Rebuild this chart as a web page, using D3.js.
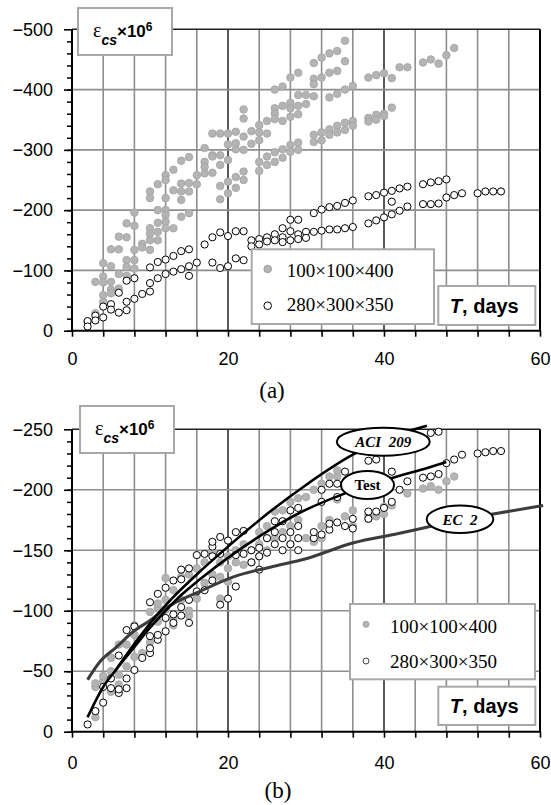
<!DOCTYPE html>
<html>
<head>
<meta charset="utf-8">
<script src="https://cdn.jsdelivr.net/npm/d3@7"></script>
<style>
body { margin: 0; background: #fff; }
svg { display: block; }
</style>
</head>
<body>
<div id="chart"></div>
<script>
// ---- Data: [T days, shrinkage strain x 1e6 (magnitude, plotted as negative)] ----

// (a) 100x100x400 specimens
var aSmall = [
    [2,15],[3,29],[3,81],
    [4,112],[4,90],[4,80],[4,59],[4,48],
    [5,135],[5,107],[5,81],[5,68],[5,62],
    [6,156],[6,135],[6,94],[6,70],
    [7,178],[7,155],[7,117],[7,106],[7,91],
    [8,196],[8,174],[8,134],[8,117],[8,103],
    [9,144],[9,138],
    [10,231],[10,220],[10,170],[10,161],[10,150],[10,134],
    [11,243],[11,200],[11,179],[11,164],[11,150],
    [12,258],[12,250],[12,220],[12,200],[12,192],[12,181],[12,170],
    [13,267],[13,233],[13,170],
    [14,282],[14,244],[14,231],[14,217],[14,189],
    [15,288],[15,245],[15,231],[15,195],
    [16,258],[16,243],
    [17,303],[17,280],[17,272],[17,261],
    [18,327],[18,291],[18,289],[18,262],
    [19,327],[19,291],[19,275],[19,240],[19,218],
    [20,327],[20,309],[20,283],[20,247],[20,228],
    [21,330],[21,311],[21,301],[21,255],[21,237],
    [22,367],[22,352],[22,322],[22,300],[22,264],[22,250],
    [23,331],[23,310],
    [24,341],[24,329],[24,316],[24,280],[24,265],
    [25,348],[25,327],[25,289],[25,275],
    [26,400],[26,369],[26,360],[26,351],[26,296],[26,280],
    [27,405],[27,373],[27,348],[27,301],[27,287],
    [28,420],[28,378],[28,369],[28,355],[28,308],[28,297],
    [29,428],[29,391],[29,373],[29,359],[29,312],[29,300],
    [30,391],[30,376],
    [31,444],[31,418],[31,409],[31,389],[31,325],[31,313],
    [32,453],[32,420],[32,329],[32,316],
    [33,460],[33,428],[33,387],[33,334],[33,325],
    [34,464],[34,431],[34,393],[34,340],[34,329],
    [35,481],[35,447],[35,400],[35,345],[35,333],
    [36,406],[36,348],[36,340],
    [38,420],[38,353],[38,347],
    [39,424],[39,358],[39,350],
    [40,427],[40,360],[40,356],
    [41,419],[41,370],
    [42,437],[43,437],[45,445],[46,450],[47,443],[48,457],[49,469]
];

// (a) 280x300x350 specimens
var aLarge = [
    [2,16],[2,7],[3,25],[3,17],[4,40],[4,22],[5,44],[5,35],
    [6,63],[6,30],[7,83],[7,48],[7,34],[8,87],[8,53],[9,61],
    [10,105],[10,79],[10,65],[11,114],[11,87],[12,118],[12,94],
    [13,124],[13,98],[14,132],[14,102],[15,135],[15,107],[15,91],
    [16,113],[17,143],[18,155],[18,113],[19,163],[19,104],
    [20,157],[20,107],[21,165],[21,120],[22,165],[22,117],
    [23,150],[23,140],[24,152],[24,143],[25,155],[25,148],
    [26,160],[26,150],[27,170],[27,155],[27,147],
    [28,184],[28,165],[28,150],[29,184],[29,160],[29,152],
    [30,164],[30,154],
    [31,195],[31,164],[32,201],[32,166],[33,205],[33,168],
    [34,207],[34,168],[35,212],[35,170],[36,216],[36,172],
    [38,223],[38,178],[39,225],[39,183],[40,229],[40,188],
    [41,232],[41,214],[41,193],[42,236],[42,199],[43,239],[43,206],
    [45,243],[45,210],[46,246],[46,210],[47,248],[47,211],
    [48,251],[48,221],[49,225],[50,228],[52,228],[53,231],[54,231],[55,231]
];

// (b) 100x100x400 specimens
var bSmall = [
    [3,12],[3,37],[3,40],[4,42],[4,46],[5,33],[5,50],[5,61],
    [6,39],[6,47],[6,72],[7,54],[7,72],[8,62],[8,80],[8,88],[9,65],
    [10,74],[10,99],[11,91],[11,102],[11,106],[12,101],[12,109],[12,127],
    [13,88],[13,93],[13,117],[14,109],[14,128],[15,96],[15,100],[15,130],
    [16,110],[16,135],[17,123],[17,140],[18,130],[18,149],
    [19,110],[19,128],[19,140],[20,124],[20,135],[20,145],
    [21,140],[21,150],[22,138],[22,155],[23,140],[23,150],
    [24,145],[24,155],[24,165],[25,150],[25,160],[25,170],
    [26,160],[26,182],[27,165],[27,183],[28,155],[28,170],[28,190],
    [29,175],[29,193],[30,160],[30,194],[31,157],[31,200],
    [32,160],[32,170],[32,205],[33,175],[33,211],
    [34,192],[34,211],[34,216],[35,178],[36,170],[36,183],
    [38,176],[38,179],[39,178],[40,180],[40,186],[41,187],[43,197],
    [45,201],[46,203],[47,200],[48,207],[49,211]
];

// (b) 280x300x350 specimens
var bLarge = [
    [2,6],[3,17],[4,24],[4,37],[5,36],[5,44],[6,32],[6,35],[6,63],
    [7,36],[7,44],[7,84],[8,51],[8,87],[9,61],
    [10,65],[10,69],[10,79],[10,107],[11,76],[11,80],[11,114],
    [12,83],[12,94],[12,119],[13,90],[13,97],[13,125],
    [14,96],[14,103],[14,126],[14,134],[15,90],[15,109],[15,135],
    [16,116],[16,146],[17,117],[17,147],[18,125],[18,145],[18,153],[18,157],
    [19,105],[19,147],[19,161],[20,110],[20,158],[21,120],[21,146],[21,165],
    [22,147],[22,166],[23,140],[23,150],[24,134],[24,145],[24,152],
    [25,148],[25,160],[26,155],[26,165],[26,174],[27,150],[27,160],[27,174],
    [28,155],[28,165],[28,183],[29,150],[29,160],[29,170],[29,185],
    [31,160],[31,165],[32,163],[32,190],[32,200],[33,167],[33,172],[33,205],
    [34,173],[34,194],[34,205],[35,170],[35,215],[36,168],[36,176],
    [38,176],[38,182],[38,224],[39,182],[39,225],[40,185],[41,190],[41,215],
    [42,200],[43,207],[45,210],[46,211],[46,247],[47,213],[47,248],
    [48,222],[49,225],[50,229],[52,230],[53,231],[54,232],[55,232]
];

// (b) model / fitted curves
var curveACI = [[5.5,50],[8.5,77],[10.7,95],[12.8,110],[16,130],[20,153],[25.4,182],[30,204],[36,229],[41,244],[45.5,253]];
var curveTest = [[2,12],[4,37],[5.5,50],[8,70],[10,86],[12,100],[14,113],[16.4,126],[20.7,147],[25.4,167],[29.2,181],[34.6,196],[41.2,210],[45,217],[48,223]];
var curveEC2 = [[2,43],[3.6,58],[5.7,70],[7.9,83],[10,92],[12,102],[16.4,116],[20.7,128],[25.4,136],[30,143],[36,156],[42,164],[45.5,169],[50,176],[54,180],[60.4,187]];

var xTickLabels = [0, 20, 40, 60];
var aTicks = [0, 100, 200, 300, 400, 500];
var bTicks = [0, 50, 100, 150, 200, 250];
var seriesNames = ['100\u00d7100\u00d7400', '280\u00d7300\u00d7350'];

// ---- Set up svg ----
var svgWidth = 551;
var svgHeight = 805;

var svg = d3.select('#chart')
    .append('svg')
    .attr('width', svgWidth)
    .attr('height', svgHeight);

var sansFont = 'Arial, "Liberation Sans", sans-serif';
var serifFont = '"Times New Roman", "Liberation Serif", serif';

var xScale = d3.scaleLinear().domain([0, 60]).range([72, 540]);

function minus(d) {
    return d === 0 ? '0' : '\u2212' + d;
}

function drawPoints(g, data, yScale, filled, r) {
    g.append('g').selectAll('circle')
        .data(data)
        .enter()
        .append('circle')
        .attr('cx', (d) => xScale(d[0]))
        .attr('cy', (d) => yScale(d[1]))
        .attr('r', r)
        .attr('fill', filled ? '#b4b4b4' : '#fff')
        .attr('stroke', filled ? '#a2a2a2' : '#000')
        .attr('stroke-width', filled ? 0.8 : 1);
}

function drawBoxText(g, x, y, w, h) {
    g.append('rect')
        .attr('x', x).attr('y', y)
        .attr('width', w).attr('height', h)
        .attr('fill', '#fff')
        .attr('stroke', '#a8a8a8')
        .attr('stroke-width', 2);
}

// Units box
function drawUnitBox(g, x, y) {
    drawBoxText(g, x, y, 94, 47);
    var t = g.append('text')
        .attr('x', x + 15)
        .attr('y', y + 29)
        .attr('font-family', sansFont)
        .attr('fill', '#000');
    t.append('tspan').text('\u03b5')
        .attr('font-family', serifFont)
        .attr('font-size', 20);
    t.append('tspan').text('cs')
        .attr('dy', 8)
        .attr('font-size', 14)
        .attr('font-style', 'italic')
        .attr('font-weight', 'bold');
    t.append('tspan').text('\u00d710')
        .attr('dy', -8)
        .attr('font-size', 17)
        .attr('font-weight', 'bold');
    t.append('tspan').text('6')
        .attr('dy', -6)
        .attr('font-size', 12)
        .attr('font-weight', 'bold');
}

function drawDaysBox(g, x, y, h) {
    drawBoxText(g, x, y, 97, h);
    var t = g.append('text')
        .attr('x', x + 46)
        .attr('y', y + h / 2 + 7)
        .attr('text-anchor', 'middle')
        .attr('font-family', sansFont)
        .attr('font-weight', 'bold')
        .attr('font-size', 20);
    t.append('tspan').text('T').attr('font-style', 'italic');
    t.append('tspan').text(', days');
}

function drawLegend(g, x, y, w, h, rows, r) {
    drawBoxText(g, x, y, w, h);
    rows.forEach((row, i) => {
        g.append('circle')
            .attr('cx', x + 16)
            .attr('cy', row.cy)
            .attr('r', r)
            .attr('fill', i === 0 ? '#b4b4b4' : '#fff')
            .attr('stroke', i === 0 ? '#a2a2a2' : (r < 3.5 ? '#444' : '#000'))
            .attr('stroke-width', 1);
        g.append('text')
            .attr('x', row.tx)
            .attr('y', row.base)
            .attr('font-family', serifFont)
            .attr('font-size', 19)
            .text(seriesNames[i]);
    });
}

// Panel: grid, axes, points
function drawPanel(p) {
    var g = svg.append('g');
    var yScale = d3.scaleLinear().domain([0, p.yMax]).range([p.bottom, p.top]);
    var x0 = xScale.range()[0], x1 = xScale.range()[1];

    // vertical grid every 4 days, darker at 20 and 40
    g.append('g').selectAll('line')
        .data(d3.range(4, 60, 4))
        .enter()
        .append('line')
        .attr('x1', (d) => xScale(d)).attr('x2', (d) => xScale(d))
        .attr('y1', p.top).attr('y2', p.bottom)
        .attr('stroke', (d) => d % 20 === 0 ? '#000' : '#8e8e8e')
        .attr('stroke-width', (d) => d % 20 === 0 ? 1.3 : 1.6);

    // horizontal grid
    g.append('g').selectAll('line')
        .data(p.ticks.filter((d) => d > 0 && d < p.yMax))
        .enter()
        .append('line')
        .attr('x1', x0).attr('x2', x1)
        .attr('y1', (d) => yScale(d)).attr('y2', (d) => yScale(d))
        .attr('stroke', '#8e8e8e')
        .attr('stroke-width', 1.6);

    // frame top + right
    g.append('line').attr('x1', x0).attr('x2', x1).attr('y1', p.top).attr('y2', p.top)
        .attr('stroke', '#222').attr('stroke-width', 1.5);
    g.append('line').attr('x1', x1).attr('x2', x1).attr('y1', p.top).attr('y2', p.bottom)
        .attr('stroke', '#000').attr('stroke-width', 2);

    // points
    drawPoints(g, p.small, yScale, true, 3.8);
    drawPoints(g, p.large, yScale, false, 3.6);

    // y axis, minor then major ticks
    var minorAxis = d3.axisLeft(yScale)
        .tickValues(d3.range(0, p.yMax, p.minor))
        .tickSize(6)
        .tickFormat('');
    g.append('g')
        .attr('transform', `translate(${x0 + 1}, 0)`)
        .call(minorAxis)
        .call((s) => s.select('.domain').remove())
        .selectAll('line').attr('stroke', '#000').attr('stroke-width', 1.5);

    var majorAxis = d3.axisLeft(yScale)
        .tickValues(p.ticks)
        .tickSize(8)
        .tickPadding(11)
        .tickFormat(minus);
    var yAxis = g.append('g')
        .attr('transform', `translate(${x0}, 0)`)
        .call(majorAxis)
        .call((s) => s.select('.domain').remove());
    yAxis.selectAll('line').attr('stroke', '#000').attr('stroke-width', 1.6);
    yAxis.selectAll('text')
        .attr('font-family', sansFont)
        .attr('font-size', 18)
        .attr('fill', '#000');

    // x axis
    var bottomAxis = d3.axisBottom(xScale)
        .tickValues(d3.range(0, 61, 4))
        .tickSize(6)
        .tickPadding(p.xPad)
        .tickFormat((d) => xTickLabels.indexOf(d) >= 0 ? d : '');
    var xAxis = g.append('g')
        .attr('transform', `translate(0, ${p.bottom})`)
        .call(bottomAxis)
        .call((s) => s.select('.domain').remove());
    xAxis.selectAll('line').attr('stroke', '#000').attr('stroke-width', 1.6);
    xAxis.selectAll('text')
        .attr('font-family', sansFont)
        .attr('font-size', 18)
        .attr('fill', '#000');

    // axis lines
    g.append('line').attr('x1', x0).attr('x2', x0).attr('y1', p.top).attr('y2', p.bottom)
        .attr('stroke', '#000').attr('stroke-width', 2);
    g.append('line').attr('x1', x0).attr('x2', x1 + 1).attr('y1', p.bottom).attr('y2', p.bottom)
        .attr('stroke', '#000').attr('stroke-width', 2);

    p.g = g;
    p.yScale = yScale;
    return p;
}

// ---- Panel (a) ----
var panelA = drawPanel({
    top: 29.3, bottom: 330.7, yMax: 500, ticks: aTicks, minor: 20,
    small: aSmall, large: aLarge, xPad: 16
});
drawLegend(panelA.g, 251.7, 249.3, 182.3, 74.7, [
    { cy: 269, tx: 286.7, base: 276.5 },
    { cy: 305.7, tx: 286.7, base: 311 }
], 3.8);
drawDaysBox(panelA.g, 438.3, 286, 39);
drawUnitBox(panelA.g, 78, 8);

svg.append('text')
    .attr('x', 272).attr('y', 398)
    .attr('text-anchor', 'middle')
    .attr('font-family', serifFont)
    .attr('font-size', 23)
    .text('(a)');

// ---- Panel (b) ----
var panelB = drawPanel({
    top: 429.3, bottom: 731.7, yMax: 250, ticks: bTicks, minor: 10,
    small: bSmall, large: bLarge, xPad: 19
});

var line = d3.line()
    .x((d) => xScale(d[0]))
    .y((d) => panelB.yScale(d[1]))
    .curve(d3.curveMonotoneX);

panelB.g.append('path').datum(curveEC2)
    .attr('d', line).attr('fill', 'none')
    .attr('stroke', '#3c3c3c').attr('stroke-width', 3);
panelB.g.append('path').datum(curveTest)
    .attr('d', line).attr('fill', 'none')
    .attr('stroke', '#000').attr('stroke-width', 2.6);
panelB.g.append('path').datum(curveACI)
    .attr('d', line).attr('fill', 'none')
    .attr('stroke', '#000').attr('stroke-width', 2.6);

// Callout ellipses
var callouts = [
    { cx: 383.3, cy: 441.7, rx: 46.5, ry: 14, label: 'ACI\u00a0\u00a0209', italic: true, base: 446.5 },
    { cx: 367.5, cy: 485, rx: 26.5, ry: 14, label: 'Test', italic: false, base: 490 },
    { cx: 460, cy: 519.3, rx: 33.3, ry: 13.7, label: 'EC\u00a0\u00a02', italic: true, base: 524.5 }
];
callouts.forEach((c) => {
    panelB.g.append('ellipse')
        .attr('cx', c.cx).attr('cy', c.cy)
        .attr('rx', c.rx).attr('ry', c.ry)
        .attr('fill', '#fff')
        .attr('stroke', '#000')
        .attr('stroke-width', 2);
    panelB.g.append('text')
        .attr('x', c.cx).attr('y', c.base)
        .attr('text-anchor', 'middle')
        .attr('font-family', serifFont)
        .attr('font-weight', 'bold')
        .attr('font-style', c.italic ? 'italic' : 'normal')
        .attr('font-size', 15)
        .text(c.label);
});

drawLegend(panelB.g, 350, 604, 185, 75.3, [
    { cy: 624.3, tx: 390, base: 632.5 },
    { cy: 661, tx: 390, base: 667.5 }
], 3);
drawDaysBox(panelB.g, 438.3, 686.7, 38.3);
drawUnitBox(panelB.g, 80, 406);

svg.append('text')
    .attr('x', 278).attr('y', 798)
    .attr('text-anchor', 'middle')
    .attr('font-family', serifFont)
    .attr('font-size', 23)
    .text('(b)');
</script>
</body>
</html>
